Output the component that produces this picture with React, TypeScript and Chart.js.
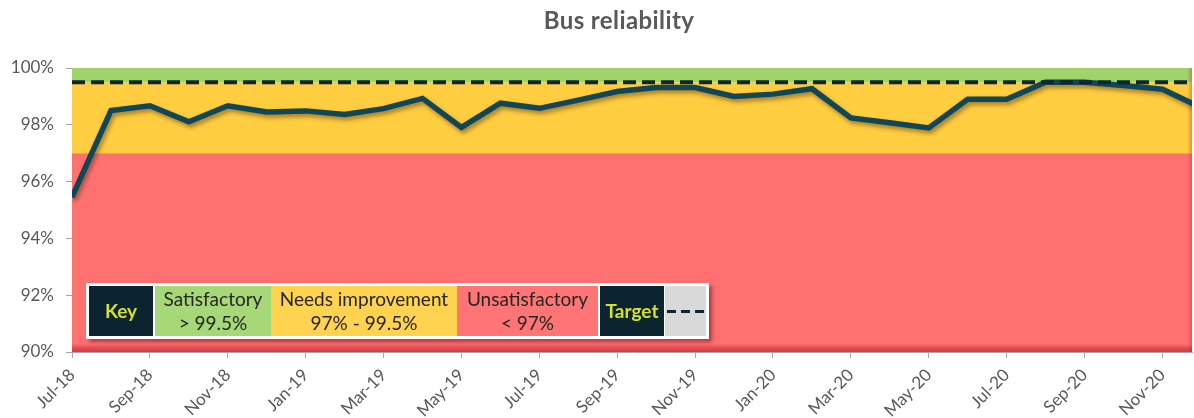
import React, { useEffect, useRef } from "react";
import { Chart, registerables } from "chart.js";

Chart.register(...registerables);

// ---------------- Data ----------------
const months = [
  "Jul-18", "Aug-18", "Sep-18", "Oct-18", "Nov-18", "Dec-18",
  "Jan-19", "Feb-19", "Mar-19", "Apr-19", "May-19", "Jun-19",
  "Jul-19", "Aug-19", "Sep-19", "Oct-19", "Nov-19", "Dec-19",
  "Jan-20", "Feb-20", "Mar-20", "Apr-20", "May-20", "Jun-20",
  "Jul-20", "Aug-20", "Sep-20", "Oct-20", "Nov-20", "Dec-20",
];

const reliability = [
  95.45, 98.5, 98.67, 98.11, 98.67, 98.45,
  98.49, 98.36, 98.57, 98.93, 97.91, 98.76,
  98.58, 98.87, 99.17, 99.31, 99.31, 99.0,
  99.08, 99.27, 98.24, 98.07, 97.89, 98.9,
  98.9, 99.5, 99.5, 99.38, 99.25, 98.6,
];

const targetValue = 99.5;

// performance bands (lower → upper limits) and their colours
const bandLimits = [90, 97, 99.5, 100];
const bandColors = ["#ff7171", "#ffcd40", "#9fd56b"];

const yMin = 90;
const yMax = 100;
const yStep = 2;
const xVisibleMax = 28.76;

const titleText = "Bus reliability";

const keyLabels = {
  key: "Key",
  sat: ["Satisfactory", "> 99.5%"],
  needs: ["Needs improvement", "97% - 99.5%"],
  unsat: ["Unsatisfactory", "< 97%"],
  target: "Target",
};

// ---------------- Plugins ----------------
const bandsPlugin = {
  id: "bands",
  beforeDatasetsDraw(chart: any) {
    const { ctx, chartArea, scales } = chart;
    const y = scales.y;
    const w = chartArea.right - chartArea.left;
    ctx.save();
    for (let i = 0; i < bandColors.length; i++) {
      const top = y.getPixelForValue(bandLimits[i + 1]);
      const bot = y.getPixelForValue(bandLimits[i]);
      ctx.fillStyle = bandColors[i];
      ctx.fillRect(chartArea.left, top, w, bot - top);
    }
    // bevel at bottom
    const g = ctx.createLinearGradient(0, chartArea.bottom - 8, 0, chartArea.bottom);
    g.addColorStop(0, "rgba(205,50,60,0)");
    g.addColorStop(0.5, "rgba(205,50,60,0.6)");
    g.addColorStop(1, "rgba(205,50,60,0.85)");
    ctx.fillStyle = g;
    ctx.fillRect(chartArea.left, chartArea.bottom - 8, w, 8);
    // bevel at right
    const g2 = ctx.createLinearGradient(chartArea.right - 5, 0, chartArea.right, 0);
    g2.addColorStop(0, "rgba(160,40,50,0)");
    g2.addColorStop(1, "rgba(160,40,50,0.35)");
    ctx.fillStyle = g2;
    ctx.fillRect(chartArea.right - 5, chartArea.top, 5, chartArea.bottom - chartArea.top);
    ctx.restore();
  },
};

const shadowPlugin = {
  id: "lineShadow",
  beforeDatasetDraw(chart: any, args: any) {
    if (args.index !== 1) return;
    const ctx = chart.ctx;
    ctx.save();
    ctx.shadowColor = "rgba(60,30,0,0.45)";
    ctx.shadowBlur = 4;
    ctx.shadowOffsetX = 2;
    ctx.shadowOffsetY = 3;
  },
  afterDatasetDraw(chart: any, args: any) {
    if (args.index !== 1) return;
    chart.ctx.restore();
  },
};

// ---------------- Component ----------------
export default function App() {
  const canvasRef = useRef<HTMLCanvasElement | null>(null);

  useEffect(() => {
    document.body.style.margin = "0";
    const canvas = canvasRef.current;
    if (!canvas) return;

    const chart = new Chart(canvas, {
      type: "line",
      data: {
        datasets: [
          {
            label: "Target",
            data: months.map((_, i) => ({ x: i, y: targetValue })),
            borderColor: "#0e2732",
            borderWidth: 4,
            borderDash: [13, 6],
            pointRadius: 0,
            fill: false,
            order: 0,
          },
          {
            label: "Bus reliability",
            data: reliability.map((v, i) => ({ x: i, y: v })),
            borderColor: "#0f4758",
            borderWidth: 5.5,
            pointRadius: 0,
            tension: 0,
            fill: false,
            borderJoinStyle: "miter",
            order: 1,
          },
        ],
      },
      options: {
        animation: false,
        responsive: false,
        maintainAspectRatio: false,
        layout: { padding: { top: 68, right: 2, left: 0, bottom: 0 } },
        plugins: {
          legend: { display: false },
          tooltip: { enabled: false },
          title: { display: false },
        },
        scales: {
          x: {
            type: "linear",
            min: 0,
            max: xVisibleMax,
            afterFit(scale: any) {
              scale.height = 66;
            },
            ticks: {
              stepSize: 2,
              includeBounds: false,
              autoSkip: false,
              minRotation: 45,
              maxRotation: 45,
              padding: 7,
              color: "#595959",
              font: { family: "Lato", size: 17 },
              callback: (v: any) =>
                Number.isInteger(v) && months[v] ? months[v] : "",
            },
            grid: {
              drawOnChartArea: false,
              drawTicks: true,
              tickLength: 6,
              color: "#a6a6a6",
            },
            border: { display: true, color: "#a6a6a6", width: 1 },
          },
          y: {
            min: yMin,
            max: yMax,
            afterFit(scale: any) {
              scale.width = 72;
            },
            ticks: {
              stepSize: yStep,
              padding: 12,
              color: "#595959",
              font: { family: "Lato", size: 17 },
              callback: (v: any) => `${v}%`,
            },
            grid: {
              drawOnChartArea: false,
              drawTicks: true,
              tickLength: 6,
              color: "#a6a6a6",
            },
            border: { display: true, color: "#a6a6a6", width: 1 },
          },
        },
      },
      plugins: [bandsPlugin, shadowPlugin],
    });

    return () => chart.destroy();
  }, []);

  const cellBase: React.CSSProperties = {
    height: 50,
    display: "flex",
    flexDirection: "column",
    alignItems: "center",
    justifyContent: "center",
    fontFamily: "Lato",
    fontSize: 19,
    lineHeight: "24px",
    color: "#262626",
    boxSizing: "border-box",
    whiteSpace: "nowrap",
  };
  const darkCell: React.CSSProperties = {
    ...cellBase,
    background: "#0b2430",
    color: "#d4e02a",
    fontWeight: 700,
    fontSize: 19,
  };

  return (
    <div
      style={{
        position: "relative",
        width: 1194,
        height: 418,
        overflow: "hidden",
        background: "#ffffff",
      }}
    >
      <canvas ref={canvasRef} width={1194} height={418} style={{ display: "block" }} />
      <div
        style={{
          position: "absolute",
          left: 619,
          top: 6,
          transform: "translateX(-50%)",
          fontFamily: "Lato",
          fontWeight: 700,
          fontSize: 24,
          letterSpacing: 0.4,
          lineHeight: "28px",
          color: "#595959",
          whiteSpace: "nowrap",
        }}
      >
        {titleText}
      </div>
      <div
        style={{
          position: "absolute",
          left: 86,
          top: 283,
          display: "flex",
          background: "#ffffff",
          padding: 3,
          boxShadow: "3px 3px 4px rgba(120,10,20,0.55)",
        }}
      >
        <div style={{ ...darkCell, width: 64, marginRight: 2 }}>{keyLabels.key}</div>
        <div style={{ ...cellBase, width: 116, background: "#a6d877" }}>
          <span>{keyLabels.sat[0]}</span>
          <span>{keyLabels.sat[1]}</span>
        </div>
        <div style={{ ...cellBase, width: 186, background: "#ffd34f" }}>
          <span>{keyLabels.needs[0]}</span>
          <span>{keyLabels.needs[1]}</span>
        </div>
        <div style={{ ...cellBase, width: 141, background: "#ff7575" }}>
          <span>{keyLabels.unsat[0]}</span>
          <span>{keyLabels.unsat[1]}</span>
        </div>
        <div style={{ ...darkCell, width: 64, marginLeft: 2, marginRight: 1 }}>{keyLabels.target}</div>
        <div
          style={{
            ...cellBase,
            width: 41,
            background: "#d9d9d9",
          }}
        >
          <div
            style={{
              width: 38,
              height: 3,
              background:
                "repeating-linear-gradient(90deg, #0e2732 0px, #0e2732 9px, transparent 9px, transparent 14px)",
            }}
          />
        </div>
      </div>
    </div>
  );
}
